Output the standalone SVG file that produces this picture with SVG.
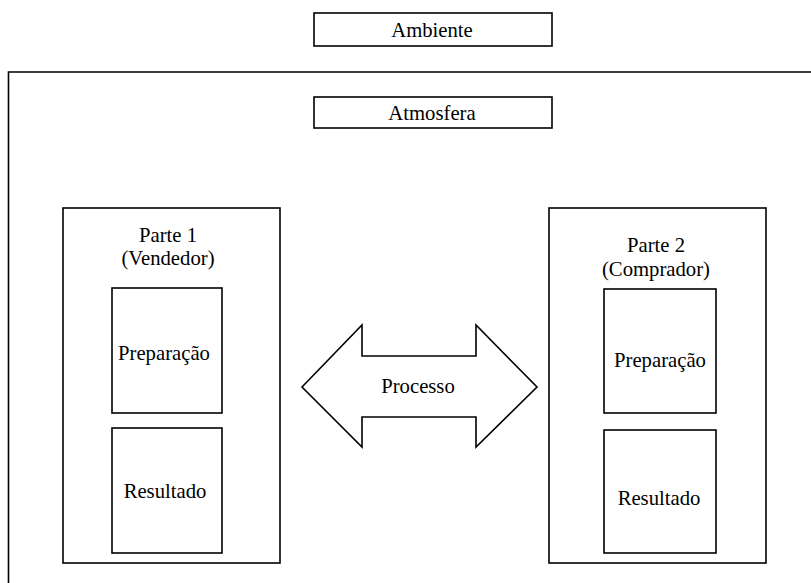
<svg xmlns="http://www.w3.org/2000/svg" width="811" height="583" viewBox="0 0 811 583">
  <style>
    .box { fill: #ffffff; stroke: #000000; stroke-width: 1.6; }
    .frame { fill: none; stroke: #000000; stroke-width: 1.6; }
    .lbl { font-family: 'Liberation Serif', Tinos, 'Times New Roman', Times, 'DejaVu Serif', serif; font-size: 20.7px; fill: #000000; text-anchor: middle; }
  </style>
  <rect width="811" height="583" fill="#ffffff"/>

  <g id="ambiente">
    <rect class="box" x="314" y="13" width="238" height="33"/>
    <text class="lbl" x="432" y="37">Ambiente</text>
  </g>

  <!-- environment frame, continues past the right and bottom edges -->
  <g id="atmosfera-frame">
    <path class="frame" d="M8.5,583 L8.5,72 L811,72"/>
  </g>

  <g id="atmosfera">
    <rect class="box" x="314" y="97" width="238" height="31"/>
    <text class="lbl" x="432" y="120">Atmosfera</text>
  </g>

  <g id="parte1">
    <rect class="box" x="63" y="208" width="217" height="355"/>
    <text class="lbl" x="168" y="242">Parte 1</text>
    <text class="lbl" x="168" y="265">(Vendedor)</text>
    <g id="parte1-preparacao">
      <rect class="box" x="112" y="288" width="110" height="125"/>
      <text class="lbl" x="164" y="360">Preparação</text>
    </g>
    <g id="parte1-resultado">
      <rect class="box" x="112" y="428" width="110" height="125"/>
      <text class="lbl" x="165" y="498">Resultado</text>
    </g>
  </g>

  <g id="parte2">
    <rect class="box" x="549" y="208" width="217" height="355"/>
    <text class="lbl" x="656" y="252">Parte 2</text>
    <text class="lbl" x="656" y="276">(Comprador)</text>
    <g id="parte2-preparacao">
      <rect class="box" x="604" y="289" width="112" height="124"/>
      <text class="lbl" x="660" y="367">Preparação</text>
    </g>
    <g id="parte2-resultado">
      <rect class="box" x="604" y="430" width="112" height="123"/>
      <text class="lbl" x="659" y="505">Resultado</text>
    </g>
  </g>

  <g id="connectors">
    <g id="processo">
      <path class="box" d="M302,387 L362,325 L362,356 L476,356 L476,325 L537,387 L476,447 L476,417 L362,417 L362,447 Z"/>
      <text class="lbl" x="418" y="393">Processo</text>
    </g>
  </g>
</svg>
